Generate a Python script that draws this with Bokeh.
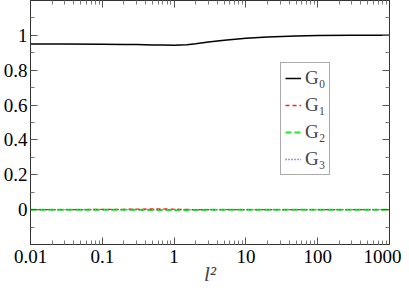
from bokeh.plotting import figure
from bokeh.models import LinearAxis, LogAxis, Range1d, FixedTicker, Legend, LegendItem
from bokeh.embed import file_html
from bokeh.resources import INLINE

# data
l2 = [0.01, 0.03, 0.1, 0.2, 0.3, 0.5, 0.7, 1.0, 1.5, 2.0, 3.0, 5.0, 10.0, 20.0, 50.0, 100.0, 300.0, 1000.0]
G0 = [0.951, 0.950, 0.949, 0.948, 0.947, 0.945, 0.944, 0.943, 0.946, 0.952, 0.962, 0.972, 0.983, 0.991, 0.997, 0.999, 1.0, 1.0]
G1 = [0.0, 0.0, 0.001, 0.002, 0.003, 0.004, 0.004, 0.003, 0.001, 0.0, 0.0, 0.0, 0.0, 0.0, 0.0, 0.0, 0.0, 0.0]
G2 = [0.0, 0.0, 0.0, -0.001, -0.001, -0.002, -0.003, -0.003, -0.003, -0.002, -0.001, 0.0, 0.0, 0.0, 0.0, 0.0, 0.0, 0.0]
G3 = [0.0] * 18
names = ["G\u2080", "G\u2081", "G\u2082", "G\u2083"]
y_ticks = [0, 0.2, 0.4, 0.6, 0.8, 1]
x_ticks = [0.01, 0.1, 1, 10, 100, 1000]
x_labels = ["0.01", "0.1", "1", "10", "100", "1000"]
y_labels = ["0", "0.2", "0.4", "0.6", "0.8", "1"]

FONT = "Liberation Serif"

p = figure(width=401, height=288, x_axis_type="log",
           x_range=Range1d(0.01, 1000), y_range=Range1d(-0.2, 1.2),
           output_backend="svg", toolbar_location=None,
           min_border_left=29, min_border_right=12, min_border_top=0, min_border_bottom=40)
p.xgrid.visible = False
p.ygrid.visible = False
p.outline_line_color = "#333333"
p.outline_line_width = 1
p.background_fill_color = "white"
p.border_fill_color = "white"

x_minor = [m * 10.0 ** e for e in range(-2, 3) for m in range(2, 10)]
y_minor = [-0.1, 0.1, 0.3, 0.5, 0.7, 0.9, 1.1]

def style(ax, labels=True):
    ax.major_tick_in = 7
    ax.major_tick_out = 0
    ax.minor_tick_in = 4
    ax.minor_tick_out = 0
    ax.axis_line_color = "#333333"
    ax.major_tick_line_color = "#555555"
    ax.minor_tick_line_color = "#777777"
    if labels:
        ax.major_label_text_font = FONT
        ax.major_label_text_color = "black"
        ax.major_label_text_font_size = "19px"
        ax.major_label_standoff = 3
    else:
        ax.major_label_text_font_size = "1px"
        ax.major_label_text_alpha = 0
        ax.major_label_standoff = 0

xa = p.xaxis[0]
ya = p.yaxis[0]
xa.ticker = FixedTicker(ticks=x_ticks, minor_ticks=x_minor)
ya.ticker = FixedTicker(ticks=y_ticks, minor_ticks=y_minor)
style(xa)
style(ya)
xa.major_label_standoff = 5
xa.major_label_overrides = dict(zip(x_ticks, x_labels))
ya.major_label_overrides = dict(zip(y_ticks, y_labels))
xa.axis_label = "l\u00b2"
xa.axis_label_text_font = FONT
xa.axis_label_text_font_style = "italic"
xa.axis_label_text_font_size = "21px"
xa.axis_label_standoff = -4

ta = LogAxis(ticker=FixedTicker(ticks=x_ticks, minor_ticks=x_minor))
style(ta, labels=False)
p.add_layout(ta, "above")
ra = LinearAxis(ticker=FixedTicker(ticks=y_ticks, minor_ticks=y_minor))
style(ra, labels=False)
p.add_layout(ra, "right")

r0 = p.line(l2, G0, line_color="black", line_width=1.5)
r1 = p.line(l2, G1, line_color="#ff2020", line_width=1.3, line_dash="4 3")
r2 = p.line(l2, G2, line_color="#20ee20", line_width=2, line_dash="6 3")
r3 = p.line(l2, G3, line_color="#3030ff", line_width=1.3, line_dash="1 2")

legend = Legend(items=[LegendItem(label=n, renderers=[r]) for n, r in zip(names, [r0, r1, r2, r3])],
                location=(250, 69))
legend.label_text_font = FONT
legend.label_text_font_size = "19px"
legend.glyph_width = 16
legend.glyph_height = 20
legend.label_height = 20
legend.label_standoff = 4
legend.spacing = 5
legend.padding = 4
legend.margin = 0
legend.border_line_color = "#555555"
legend.border_line_width = 1
legend.background_fill_alpha = 1
p.add_layout(legend, "center")

open("out.html", "w").write(file_html(p, INLINE))
